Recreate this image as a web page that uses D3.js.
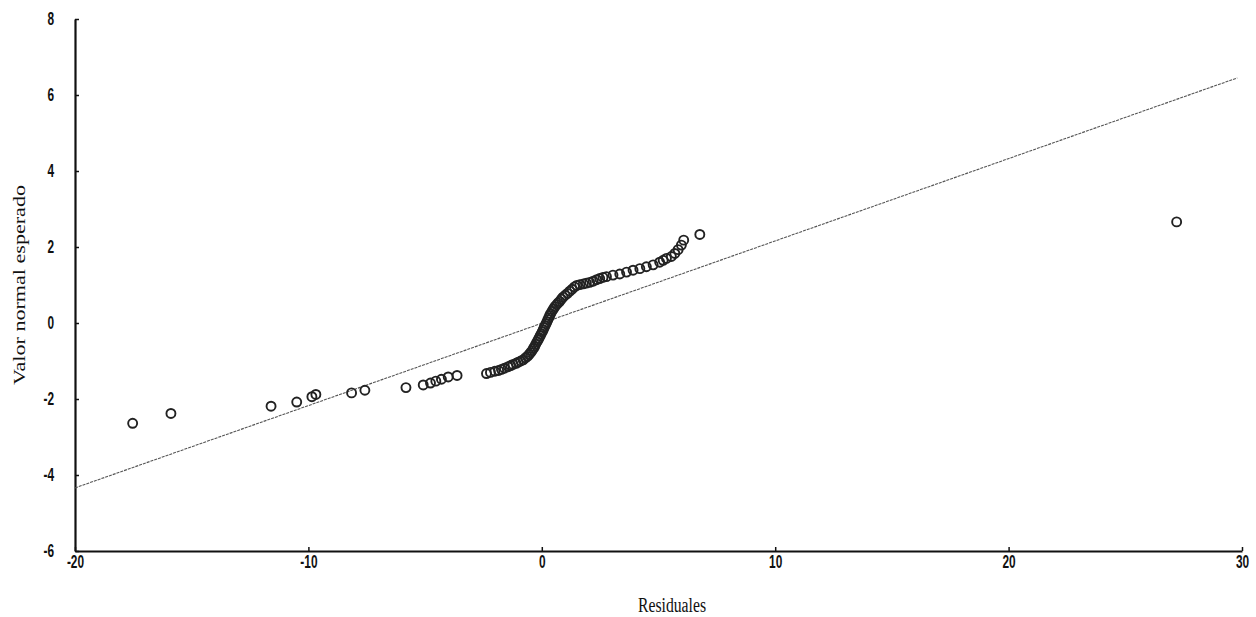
<!DOCTYPE html>
<html>
<head>
<meta charset="utf-8">
<script src="https://cdn.jsdelivr.net/npm/d3@7"></script>
<style>
  html, body { margin: 0; padding: 0; background: #fff; }
  svg { display: block; }
</style>
</head>
<body>
<svg id="chart" width="1256" height="617"></svg>
<script>
// Residuals (x) against their expected normal values (y)
const residuales = [
  -17.53, -15.89, -11.6, -10.5, -9.85, -9.68, -8.15, -7.58,
  -5.82, -5.08, -4.77, -4.54, -4.30, -4.01, -3.63,
  -2.37, -2.2, -2.01, -1.85, -1.73, -1.6, -1.44, -1.33, -1.23, -1.1,
  -1.01, -0.9, -0.8, -0.7, -0.62, -0.55, -0.48, -0.42, -0.36, -0.31,
  -0.26, -0.21, -0.16, -0.12, -0.07, -0.03, 0.02, 0.06, 0.10, 0.14,
  0.18, 0.22, 0.26, 0.30, 0.34, 0.38, 0.44, 0.50, 0.56, 0.63,
  0.70, 0.77, 0.84, 0.91, 1.0, 1.10, 1.20, 1.30, 1.40, 1.50,
  1.63, 1.78, 1.91, 2.05, 2.2, 2.35, 2.48, 2.62, 2.77, 3.05,
  3.34, 3.63, 3.91, 4.2, 4.48, 4.77, 5.05, 5.2, 5.34, 5.55,
  5.7, 5.84, 5.98, 6.08, 6.77, 27.2
];
const valorNormal = [
  -2.64, -2.38, -2.19, -2.08, -1.94, -1.88, -1.84, -1.77,
  -1.70, -1.63, -1.58, -1.53, -1.48, -1.42, -1.38,
  -1.33, -1.30, -1.27, -1.25, -1.22, -1.19, -1.15, -1.12, -1.09, -1.06,
  -1.03, -1.0, -0.97, -0.92, -0.88, -0.83, -0.78, -0.73, -0.67, -0.62,
  -0.56, -0.50, -0.45, -0.40, -0.34, -0.29, -0.23, -0.18, -0.12, -0.07,
  -0.02, 0.03, 0.09, 0.14, 0.20, 0.25, 0.31, 0.37, 0.43, 0.48,
  0.53, 0.57, 0.63, 0.68, 0.73, 0.78, 0.84, 0.89, 0.95, 0.99,
  1.01, 1.03, 1.05, 1.07, 1.10, 1.14, 1.17, 1.20, 1.22, 1.26,
  1.29, 1.34, 1.39, 1.43, 1.48, 1.53, 1.60, 1.65, 1.70, 1.75,
  1.83, 1.93, 2.05, 2.18, 2.33, 2.66
];

// Reference line endpoints
const lineX = [-20, 29.8];
const lineY = [-4.34, 6.45];

// Axis ticks
const xTicks = [-20, -10, 0, 10, 20, 30];
const yTicks = [-6, -4, -2, 0, 2, 4, 6, 8];

const svg = d3.select("#chart");

const x = d3.scaleLinear().domain([-20, 30]).range([75, 1242]);
const y = d3.scaleLinear().domain([-6, 8]).range([551, 19]);

const fmt = d => String(d);   // plain hyphen for negatives

// Axes
const xAxis = d3.axisBottom(x).tickValues(xTicks).tickFormat(fmt)
  .tickSizeInner(-4).tickSizeOuter(0).tickPadding(4);
const yAxis = d3.axisLeft(y).tickValues(yTicks).tickFormat(fmt)
  .tickSizeInner(-4).tickSizeOuter(0).tickPadding(22);

const gx = svg.append("g").attr("transform", `translate(0,${y(-6)})`).call(xAxis);
const gy = svg.append("g").attr("transform", `translate(${x(-20)},0)`).call(yAxis);

[gx, gy].forEach(g => {
  g.select(".domain").attr("stroke", "#111").attr("stroke-width", 2.2);
  g.selectAll(".tick line").attr("stroke", "#111").attr("stroke-width", 1.5);
  g.selectAll(".tick text")
    .attr("fill", "#111")
    .style("font-family", "'Liberation Sans', Arial, sans-serif")
    .style("font-weight", "bold")
    .style("font-size", "18px");
});
const sx = 0.66;
gx.selectAll(".tick text").attr("transform", `scale(${sx},1)`);
gy.selectAll(".tick text").attr("transform", `scale(${sx},1)`)
  .attr("x", -21 / sx);

// Reference line
svg.append("line")
  .attr("x1", x(lineX[0])).attr("y1", y(lineY[0]))
  .attr("x2", x(lineX[1])).attr("y2", y(lineY[1]))
  .attr("stroke", "#555")
  .attr("stroke-width", 1.1)
  .attr("stroke-dasharray", "3,1");

// Points
const pts = residuales.map((r, i) => [r, valorNormal[i]]);
svg.append("g").selectAll("circle")
  .data(pts)
  .join("circle")
  .attr("cx", d => x(d[0]))
  .attr("cy", d => y(d[1]))
  .attr("r", 4.5)
  .attr("fill", "none")
  .attr("stroke", "#222")
  .attr("stroke-width", 1.9);

// Axis titles
svg.append("text")
  .attr("x", 672).attr("y", 612)
  .attr("text-anchor", "middle")
  .attr("textLength", 68)
  .attr("lengthAdjust", "spacingAndGlyphs")
  .style("font-family", "'Liberation Serif', 'Times New Roman', serif")
  .style("font-size", "20px")
  .attr("fill", "#111")
  .text("Residuales");

svg.append("text")
  .attr("transform", `translate(25,${(y(-6) + y(8)) / 2}) rotate(-90)`)
  .attr("text-anchor", "middle")
  .attr("textLength", 200)
  .attr("lengthAdjust", "spacingAndGlyphs")
  .style("font-family", "'Liberation Serif', 'Times New Roman', serif")
  .style("font-size", "16px")
  .attr("fill", "#111")
  .text("Valor normal esperado");
</script>
</body>
</html>
